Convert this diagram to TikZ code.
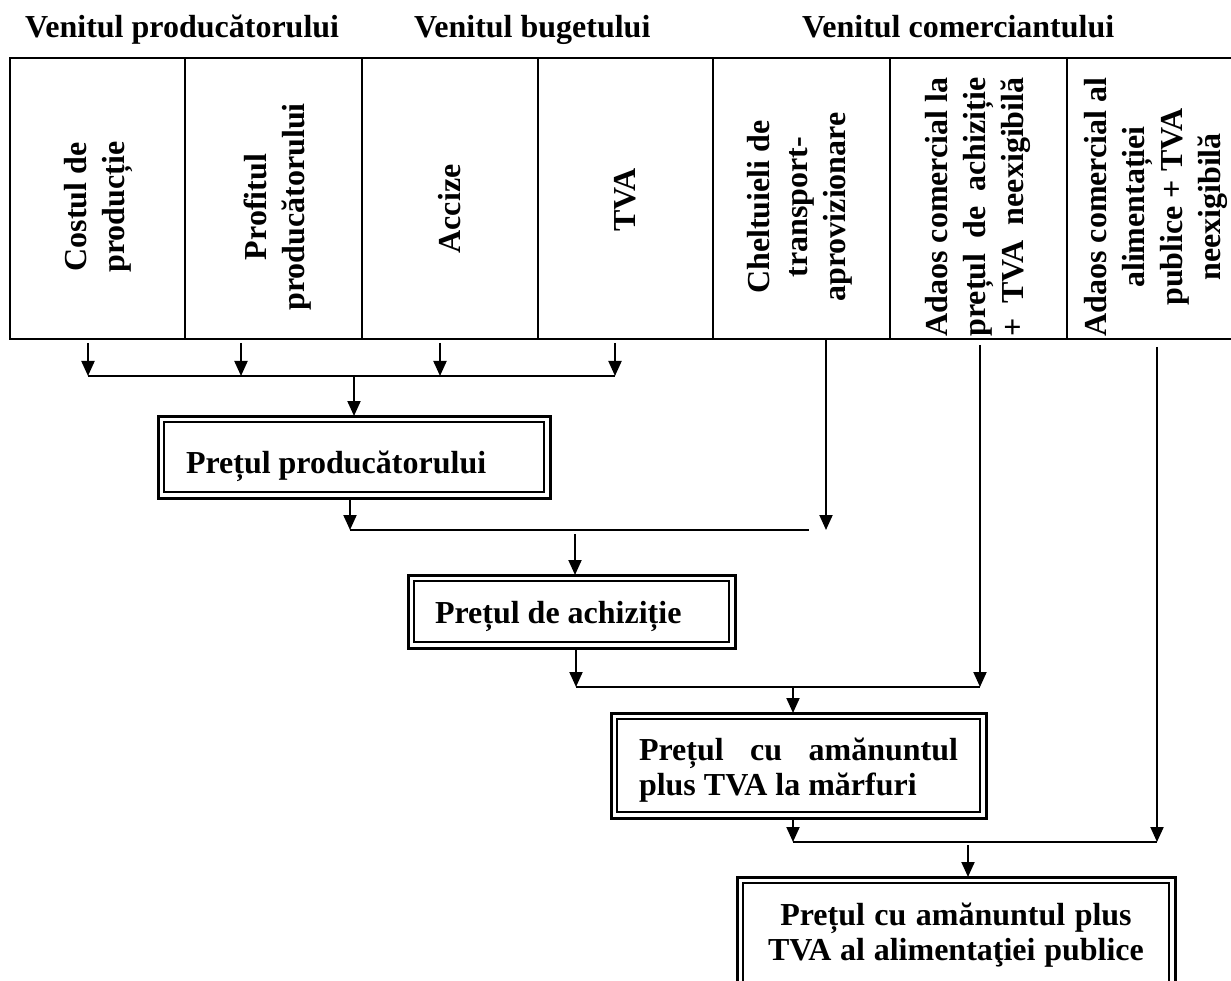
\documentclass[tikz,border=0pt]{standalone}
\usepackage{fontspec}
\setmainfont{Liberation Serif}
\usetikzlibrary{arrows.meta}
\begin{document}
\begin{tikzpicture}[x=1pt,y=-1pt,
  every node/.style={font=\fontsize{32}{38}\selectfont\bfseries, inner sep=0pt,
    execute at begin node={\spaceskip=0pt\xspaceskip=0pt}},
  hdr/.style={anchor=base west},
  coltext/.style={rotate=90, align=center},
  arr/.style={line width=2pt, -{Triangle[length=15pt,width=13pt]}},
  ln/.style={line width=2pt},
  dbox/.style={draw, line width=3pt, outer sep=0pt, inner ysep=0pt, anchor=north west},
  inframe/.style={line width=2pt}]
\useasboundingbox (0,0) rectangle (1231,981);
\clip (0,0) rectangle (1231,981);

% headers
\node[hdr] (hp) at (25,38) {Venitul producătorului};
\node[hdr] (hb) at (414,38) {Venitul bugetului};
\node[hdr] (hc) at (802,38) {Venitul comerciantului};

% table
\draw[line width=2.5pt] (10,58) rectangle (1245,339);
\foreach \x in {185,362,538,713,890,1067} \draw[line width=2pt] (\x,58) -- (\x,339);

\node[coltext] (c1) at (98,207) {Costul de\\producție};
\node[coltext] (c2) at (278,207) {Profitul\\producătorului};
\node[coltext] (c3) at (450,209) {Accize};
\node[coltext] (c4) at (625,200) {TVA};
\node[coltext] (c5) at (800,207) {Cheltuieli de\\transport-\\aprovizionare};
\node[rotate=90, align=left] (c6) at (978,207) {\hbox to 259pt{\spaceskip=0pt Adaos comercial la}\\\hbox to 259pt{\spaceskip=0pt prețul de achiziție}\\\hbox to 259pt{\spaceskip=0pt + TVA neexigibilă}};
\node[coltext] (c7) at (1156,207) {Adaos comercial al\\alimentației\\publice + TVA\\neexigibilă};

% boxes
\node[dbox, inner xsep=28pt, text width=336pt, align=left, text height=57pt, text depth=25pt] (b1) at (158,416) {Prețul producătorului};
\draw[inframe] ([xshift=6pt,yshift=-6pt]b1.north west) rectangle ([xshift=-6pt,yshift=6pt]b1.south east);

\node[dbox, inner xsep=27pt, text width=273pt, align=left, text height=48pt, text depth=25pt] (b2) at (408,575) {Prețul de achiziție};
\draw[inframe] ([xshift=6pt,yshift=-6pt]b2.north west) rectangle ([xshift=-6pt,yshift=6pt]b2.south east);

\node[dbox, font=\fontsize{32}{35}\selectfont\bfseries, inner xsep=28pt, text width=319pt, align=left, text height=47pt, text depth=58pt] (b3) at (611,713) {\hbox to 319pt{\spaceskip=0pt Prețul cu amănuntul}\\plus TVA la mărfuri};
\draw[inframe] ([xshift=6pt,yshift=-6pt]b3.north west) rectangle ([xshift=-6pt,yshift=6pt]b3.south east);

\node[dbox, font=\fontsize{32}{35}\selectfont\bfseries, inner xsep=20pt, text width=398pt, align=center, text height=48pt, text depth=75pt] (b4) at (737,877) {Prețul cu amănuntul plus\\TVA al alimentaţiei publice};
\draw[inframe] ([xshift=6pt,yshift=-6pt]b4.north west) rectangle ([xshift=-6pt,yshift=6pt]b4.south east);

% connector points
\coordinate (a1) at (88,343);
\coordinate (a2) at (241,343);
\coordinate (a3) at (440,343);
\coordinate (a4) at (615,343);
\coordinate (h1L) at (88,376);
\coordinate (h1R) at (615,376);
\coordinate (h1M) at (354,376);
\coordinate (h2L) at (350,530);
\coordinate (h2R) at (809,530);
\coordinate (h2M) at (575,534);
\coordinate (c5s) at (826,339);
\coordinate (h3L) at (576,687);
\coordinate (h3M) at (793,687);
\coordinate (c6s) at (980,345);
\coordinate (h4L) at (793,842);
\coordinate (h4M) at (968,845);
\coordinate (c7s) at (1157,347);

% row 1
\foreach \p in {a1,a2,a3,a4} \draw[arr] (\p) -- (\p |- h1L);
\draw[ln] (h1L) -- (h1R);
\draw[arr] (h1M) -- (h1M |- b1.north);

% row 2
\draw[arr] (b1.south -| h2L) -- (h2L);
\draw[arr] (c5s) -- (c5s |- h2L);
\draw[ln] (h2L) -- (h2R);
\draw[arr] (h2M) -- (h2M |- b2.north);

% row 3
\draw[arr] (b2.south -| h3L) -- (h3L);
\draw[arr] (c6s) -- (c6s |- h3L);
\draw[ln] (h3L) -- (c6s |- h3L);
\draw[arr] (h3M) -- (h3M |- b3.north);

% row 4
\draw[arr] (b3.south -| h4L) -- (h4L);
\draw[arr] (c7s) -- (c7s |- h4L);
\draw[ln] (h4L) -- (c7s |- h4L);
\draw[arr] (h4M) -- (h4M |- b4.north);
\end{tikzpicture}
\end{document}
